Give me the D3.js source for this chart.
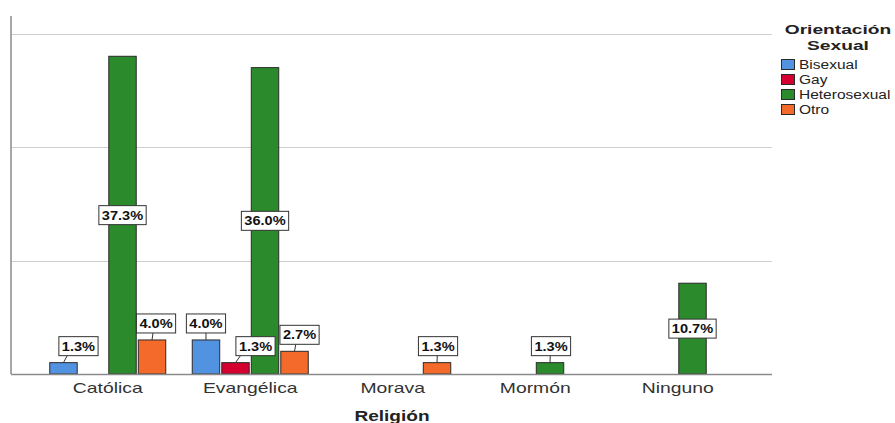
<!DOCTYPE html>
<html><head><meta charset="utf-8">
<script src="https://cdn.jsdelivr.net/npm/d3@7/dist/d3.min.js"></script>
<style>body{margin:0;background:#fff;}svg{display:block;font-family:"Liberation Sans",Arial,sans-serif;}</style>
</head><body>
<script>
const categories = ["Católica","Evangélica","Morava","Mormón","Ninguno"];
const seriesNames = ["Bisexual","Gay","Heterosexual","Otro"];
const seriesColors = ["#5293e1","#d4002f","#2b8a2b","#f46a2a"];
// counts (n = 75)
const bisexual =     [1, 3, 0, 0, 0];
const gay =          [0, 1, 0, 0, 0];
const heterosexual = [28, 27, 0, 1, 8];
const otro =         [3, 2, 1, 0, 0];
const percentLabels = {
  "Bisexual":     ["1.3%","4.0%",null,null,null],
  "Gay":          [null,"1.3%",null,null,null],
  "Heterosexual": ["37.3%","36.0%",null,"1.3%","10.7%"],
  "Otro":         ["4.0%","2.7%","1.3%",null,null]
};
const yTicks = [10, 20, 30];
const xTitle = "Religión";
const legendTitle = ["Orientación","Sexual"];

const seriesValues = [bisexual, gay, heterosexual, otro];
const W = 895, H = 423;
const svg = d3.select("body").append("svg").attr("width", W).attr("height", H);
const pLeft = 11, pRight = 772, pTop = 16, pBottom = 374;

// horizontal stretch helper (reference text is rendered wide)
function stretch(sel, f) {
  sel.each(function () {
    const w = this.getComputedTextLength();
    d3.select(this).attr("textLength", w * f).attr("lengthAdjust", "spacingAndGlyphs");
  });
  return sel;
}

const y = d3.scaleLinear().domain([0, 31.55]).range([pBottom, pTop]);
const x0 = d3.scaleBand().domain(categories).range([36.5, 749]).padding(0);
const groupW = 116;
const x1 = d3.scaleBand().domain(seriesNames).range([0, groupW]).paddingInner(0.07);

// gridlines
svg.append("g").selectAll("line").data(yTicks).join("line")
  .attr("x1", pLeft).attr("x2", pRight).attr("y1", d => Math.round(y(d)) + 0.5).attr("y2", d => Math.round(y(d)) + 0.5)
  .attr("stroke", "#cfcfcf").attr("stroke-width", 1);

// y axis line
svg.append("line").attr("x1", pLeft).attr("x2", pLeft).attr("y1", pTop).attr("y2", pBottom)
  .attr("stroke", "#8a8a8a").attr("stroke-width", 1.5);

// bars
const data = [];
categories.forEach((c, ci) => {
  seriesNames.forEach((s, si) => {
    const v = seriesValues[si][ci];
    if (v > 0) data.push({c, s, si, ci, v, label: percentLabels[s][ci]});
  });
});
const gx = c => x0(c) + x0.bandwidth() / 2 - groupW / 2;

svg.append("g").selectAll("rect").data(data).join("rect")
  .attr("x", d => gx(d.c) + x1(d.s))
  .attr("y", d => y(d.v))
  .attr("width", x1.bandwidth())
  .attr("height", d => pBottom - y(d.v))
  .attr("fill", d => seriesColors[d.si])
  .attr("stroke", "#2a2a2a").attr("stroke-width", 1);

// x axis baseline
svg.append("line").attr("x1", pLeft).attr("x2", pRight).attr("y1", pBottom + 0.5).attr("y2", pBottom + 0.5)
  .attr("stroke", "#8a8a8a").attr("stroke-width", 1.5);

// x axis labels
const xAxis = d3.axisBottom(x0).tickSize(0).tickPadding(7);
const gxAxis = svg.append("g").attr("transform", `translate(0,${pBottom + 1})`).call(xAxis);
gxAxis.select(".domain").remove();
gxAxis.selectAll("text").attr("font-size", 15).attr("fill", "#333")
  .attr("font-family", '"Liberation Sans",Arial,sans-serif');
stretch(gxAxis.selectAll("text"), 1.29);

stretch(svg.append("text").attr("x", 392).attr("y", 421).attr("text-anchor", "middle")
  .attr("font-size", 15).attr("font-weight", "bold").attr("fill", "#222").text(xTitle), 1.27);

// labels (collision offsets are layout, chosen by eye)
const labelDx = {"Bisexual|Católica": 15, "Otro|Católica": 4, "Bisexual|Evangélica": 0,
  "Gay|Evangélica": 20, "Otro|Evangélica": 5, "Otro|Morava": 1, "Heterosexual|Mormón": 1};
const lg = svg.append("g");
data.forEach(d => {
  if (!d.label) return;
  const bx = gx(d.c) + x1(d.s) + x1.bandwidth() / 2;
  const barTop = y(d.v);
  const inside = (pBottom - barTop) > 60;
  const dx = labelDx[d.s + "|" + d.c] || 0;
  const cx = bx + dx;
  const t = lg.append("text").attr("font-size", 13).attr("font-weight", "bold").attr("fill", "#111")
    .attr("text-anchor", "middle").text(d.label);
  const tw = t.node().getComputedTextLength() * 1.12;
  t.attr("textLength", tw).attr("lengthAdjust", "spacingAndGlyphs");
  const bw = tw + 6, bh = 19;
  let by;
  if (inside) {
    by = (barTop + pBottom) / 2 - bh / 2;
  } else {
    by = barTop - 7 - bh;
    lg.insert("line", "text").attr("x1", bx).attr("x2", bx + dx * 0.25).attr("y1", barTop).attr("y2", by + bh)
      .attr("stroke", "#333").attr("stroke-width", 1);
  }
  lg.insert("rect", "text").attr("x", cx - bw / 2).attr("y", by).attr("width", bw).attr("height", bh)
    .attr("fill", "#fff").attr("stroke", "#333").attr("stroke-width", 1);
  t.attr("x", cx).attr("y", by + bh / 2 + 4.5);
  t.raise();
});

// legend
const leg = svg.append("g");
legendTitle.forEach((tline, i) => {
  stretch(leg.append("text").attr("x", 838).attr("y", 34 + i * 15.5).attr("text-anchor", "middle")
    .attr("font-size", 13.5).attr("font-weight", "bold").attr("fill", "#222").text(tline), 1.42);
});
seriesNames.forEach((s, i) => {
  const yy = 59 + i * 15;
  leg.append("rect").attr("x", 781.5).attr("y", yy + 0.5).attr("width", 13).attr("height", 10)
    .attr("fill", seriesColors[i]).attr("stroke", "#2a2a2a").attr("stroke-width", 1);
  stretch(leg.append("text").attr("x", 799).attr("y", yy + 10).attr("font-size", 12.5).attr("fill", "#222").text(s), 1.24);
});
</script>
</body></html>
